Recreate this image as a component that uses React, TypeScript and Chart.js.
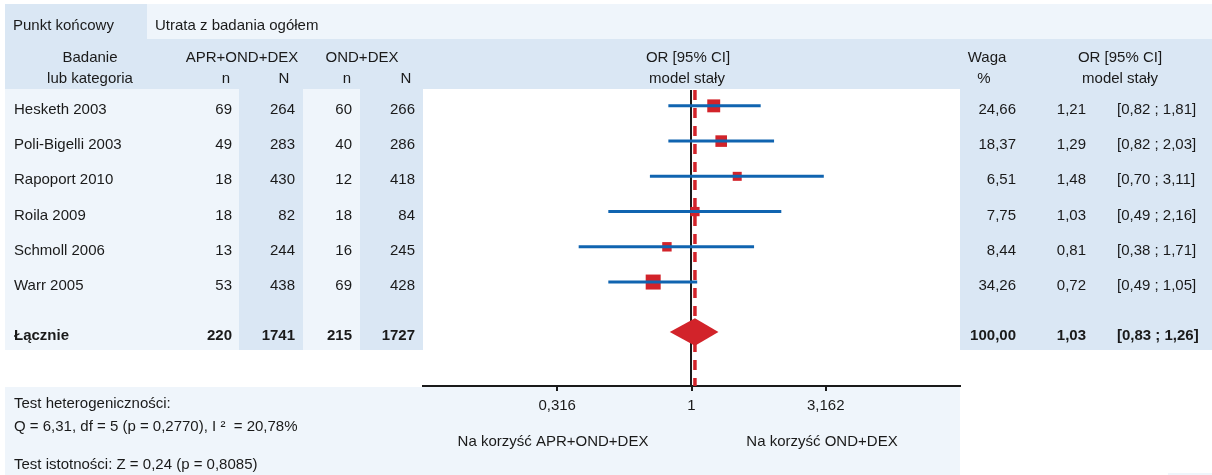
import React, { useEffect, useRef } from "react";
import { Chart, registerables } from "chart.js";

Chart.register(...registerables);

// ---------- data ----------
const STUDIES = ["Hesketh 2003", "Poli-Bigelli 2003", "Rapoport 2010", "Roila 2009", "Schmoll 2006", "Warr 2005"];
const N_EVENTS_APR = [69, 49, 18, 18, 13, 53];
const N_TOTAL_APR = [264, 283, 430, 82, 244, 438];
const N_EVENTS_OND = [60, 40, 12, 18, 16, 69];
const N_TOTAL_OND = [266, 286, 418, 84, 245, 428];
const WEIGHTS = [24.66, 18.37, 6.51, 7.75, 8.44, 34.26];
const OR = [1.21, 1.29, 1.48, 1.03, 0.81, 0.72];
const CI_LO = [0.82, 0.82, 0.7, 0.49, 0.38, 0.49];
const CI_HI = [1.81, 2.03, 3.11, 2.16, 1.71, 1.05];

const TOTAL_LABEL = "Łącznie";
const TOTAL_COUNTS = [220, 1741, 215, 1727];
const TOTAL_WEIGHT = 100.0;
const TOTAL_OR = 1.03;
const TOTAL_LO = 0.83;
const TOTAL_HI = 1.26;

const TICK_VALUES = [0.316, 1, 3.162];
const TICK_LABELS = ["0,316", "1", "3,162"];

const ENDPOINT_LABEL = "Punkt końcowy";
const ENDPOINT = "Utrata z badania ogółem";
const HET_LINE1 = "Test heterogeniczności:";
const HET_LINE2 = "Q = 6,31, df = 5 (p = 0,2770), I ²  = 20,78%";
const SIG_LINE = "Test istotności: Z = 0,24 (p = 0,8085)";
const FAVOURS_LEFT = "Na korzyść APR+OND+DEX";
const FAVOURS_RIGHT = "Na korzyść OND+DEX";

// ---------- styles ----------
const FAMILY = "'Liberation Sans', Arial, sans-serif";
const FONT = `15px ${FAMILY}`;
const BOLD = `bold 15px ${FAMILY}`;
const DARK = "#dae7f4";
const LIGHT = "#eff5fb";
const RED = "#d2232a";
const BLUE = "#1064b0";
const TEXT = "#1a1a1a";
const TOTAL_ROW = 6.42;

const fmt = (v: number) => v.toFixed(2).replace(".", ",");

const forestPlugin = {
  id: "forest",
  beforeDraw(chart: any) {
    const ctx = chart.ctx;
    ctx.save();
    const rect = (c: string, x: number, y: number, w: number, h: number) => {
      ctx.fillStyle = c;
      ctx.fillRect(x, y, w, h);
    };
    rect(DARK, 5, 4, 142, 35);
    rect(LIGHT, 147, 4, 1065, 35);
    rect(DARK, 5, 39, 1207, 50);
    rect(LIGHT, 5, 89, 418, 261);
    rect(DARK, 239, 89, 64, 261);
    rect(DARK, 360, 89, 63, 261);
    rect(DARK, 960, 89, 252, 261);
    rect(LIGHT, 5, 387, 955, 88);
    rect(LIGHT, 1168, 473, 44, 2);
    ctx.restore();
  },
  beforeDatasetsDraw(chart: any) {
    const { ctx, chartArea, scales } = chart;
    const x = scales.x;
    ctx.save();
    const x1 = Math.round(x.getPixelForValue(1)) - 1;
    ctx.strokeStyle = TEXT;
    ctx.lineWidth = 2;
    ctx.beginPath();
    ctx.moveTo(x1, chartArea.top);
    ctx.lineTo(x1, chartArea.bottom);
    ctx.stroke();
    const xp = x.getPixelForValue(TOTAL_OR);
    ctx.strokeStyle = RED;
    ctx.lineWidth = 3.5;
    ctx.setLineDash([10, 8]);
    ctx.beginPath();
    ctx.moveTo(xp, chartArea.top);
    ctx.lineTo(xp, chartArea.bottom);
    ctx.stroke();
    ctx.restore();
  },
  afterDatasetsDraw(chart: any) {
    const { ctx, scales } = chart;
    const x = scales.x;
    const y = scales.y;
    const cx = x.getPixelForValue(TOTAL_OR);
    const l = x.getPixelForValue(TOTAL_LO);
    const r = x.getPixelForValue(TOTAL_HI);
    const cy = y.getPixelForValue(TOTAL_ROW);
    const hh = y.getPixelForValue(TOTAL_ROW + 0.39) - cy;
    ctx.save();
    ctx.fillStyle = RED;
    ctx.beginPath();
    ctx.moveTo(l, cy);
    ctx.lineTo(cx, cy - hh);
    ctx.lineTo(r, cy);
    ctx.lineTo(cx, cy + hh);
    ctx.closePath();
    ctx.fill();
    ctx.restore();
  },
  afterDraw(chart: any) {
    const { ctx, scales } = chart;
    const y = scales.y;
    ctx.save();
    ctx.fillStyle = TEXT;
    ctx.textBaseline = "alphabetic";
    const t = (s: string, px: number, py: number, align: CanvasTextAlign = "left", font = FONT) => {
      ctx.font = font;
      ctx.textAlign = align;
      ctx.fillText(s, px, py);
    };
    // top row
    t(ENDPOINT_LABEL, 13, 30);
    t(ENDPOINT, 155, 30);
    // header
    t("Badanie", 90, 62, "center");
    t("APR+OND+DEX", 242, 62, "center");
    t("OND+DEX", 362, 62, "center");
    t("OR [95% CI]", 688, 62, "center");
    t("Waga", 987, 62, "center");
    t("OR [95% CI]", 1120, 62, "center");
    t("lub kategoria", 90, 83, "center");
    t("n", 226, 83, "center");
    t("N", 284, 83, "center");
    t("n", 347, 83, "center");
    t("N", 406, 83, "center");
    t("model stały", 687, 83, "center");
    t("%", 984, 83, "center");
    t("model stały", 1120, 83, "center");
    // rows
    STUDIES.forEach((s, i) => {
      const by = y.getPixelForValue(i) + 8;
      t(s, 14, by);
      t(String(N_EVENTS_APR[i]), 232, by, "right");
      t(String(N_TOTAL_APR[i]), 295, by, "right");
      t(String(N_EVENTS_OND[i]), 352, by, "right");
      t(String(N_TOTAL_OND[i]), 415, by, "right");
      t(fmt(WEIGHTS[i]), 1016, by, "right");
      t(fmt(OR[i]), 1086, by, "right");
      t(`[${fmt(CI_LO[i])} ; ${fmt(CI_HI[i])}]`, 1117, by);
    });
    const ty = y.getPixelForValue(TOTAL_ROW) + 8;
    t(TOTAL_LABEL, 14, ty, "left", BOLD);
    t(String(TOTAL_COUNTS[0]), 232, ty, "right", BOLD);
    t(String(TOTAL_COUNTS[1]), 295, ty, "right", BOLD);
    t(String(TOTAL_COUNTS[2]), 352, ty, "right", BOLD);
    t(String(TOTAL_COUNTS[3]), 415, ty, "right", BOLD);
    t(fmt(TOTAL_WEIGHT), 1016, ty, "right", BOLD);
    t(fmt(TOTAL_OR), 1086, ty, "right", BOLD);
    t(`[${fmt(TOTAL_LO)} ; ${fmt(TOTAL_HI)}]`, 1117, ty, "left", BOLD);
    // bottom
    t(HET_LINE1, 14, 408);
    t(HET_LINE2, 14, 431);
    t(SIG_LINE, 14, 469);
    t(FAVOURS_LEFT, 553, 446, "center");
    t(FAVOURS_RIGHT, 822, 446, "center");
    ctx.restore();
  },
};

export default function App() {
  const ref = useRef<HTMLCanvasElement | null>(null);
  useEffect(() => {
    if (!ref.current) return;
    const chart = new Chart(ref.current, {
      type: "scatter",
      data: {
        datasets: [
          ...STUDIES.map((s, i) => ({
            label: s,
            data: [
              { x: CI_LO[i], y: i },
              { x: CI_HI[i], y: i },
            ],
            showLine: true,
            borderColor: BLUE,
            borderWidth: 3,
            pointRadius: 0,
            pointHoverRadius: 0,
            order: 0,
          })),
          {
            label: "OR",
            data: OR.map((v, i) => ({ x: v, y: i })),
            pointStyle: "rect",
            pointRadius: WEIGHTS.map((w) => (7.6 + 0.216 * w) / Math.SQRT2),
            backgroundColor: RED,
            borderWidth: 0,
            order: 1,
          },
        ],
      } as any,
      options: {
        animation: false,
        responsive: false,
        maintainAspectRatio: false,
        devicePixelRatio: 1,
        layout: { padding: { left: 423, right: 252, top: 90, bottom: 49 } },
        plugins: { legend: { display: false }, tooltip: { enabled: false } },
        events: [],
        scales: {
          x: {
            type: "logarithmic",
            min: 0.1,
            max: 10,
            position: "bottom",
            afterBuildTicks: (s: any) => {
              s.ticks = TICK_VALUES.map((v) => ({ value: v }));
            },
            afterFit: (s: any) => {
              s.height = 40;
            },
            ticks: {
              callback: (_v: any, i: number) => TICK_LABELS[i],
              color: TEXT,
              font: { size: 15, family: FAMILY },
              padding: 6,
              maxRotation: 0,
              autoSkip: false,
            },
            grid: { drawOnChartArea: false, drawTicks: true, tickLength: 5, color: TEXT, lineWidth: 2 },
            border: { display: true, color: TEXT, width: 2 },
          },
          y: { type: "linear", min: -0.45, max: 7.95, reverse: true, display: false },
        },
      } as any,
      plugins: [forestPlugin],
    });
    return () => chart.destroy();
  }, []);
  return (
    <div style={{ position: "absolute", left: 0, top: 0, width: 1212, height: 475, background: "#fff" }}>
      <canvas ref={ref} width={1212} height={475} />
    </div>
  );
}
